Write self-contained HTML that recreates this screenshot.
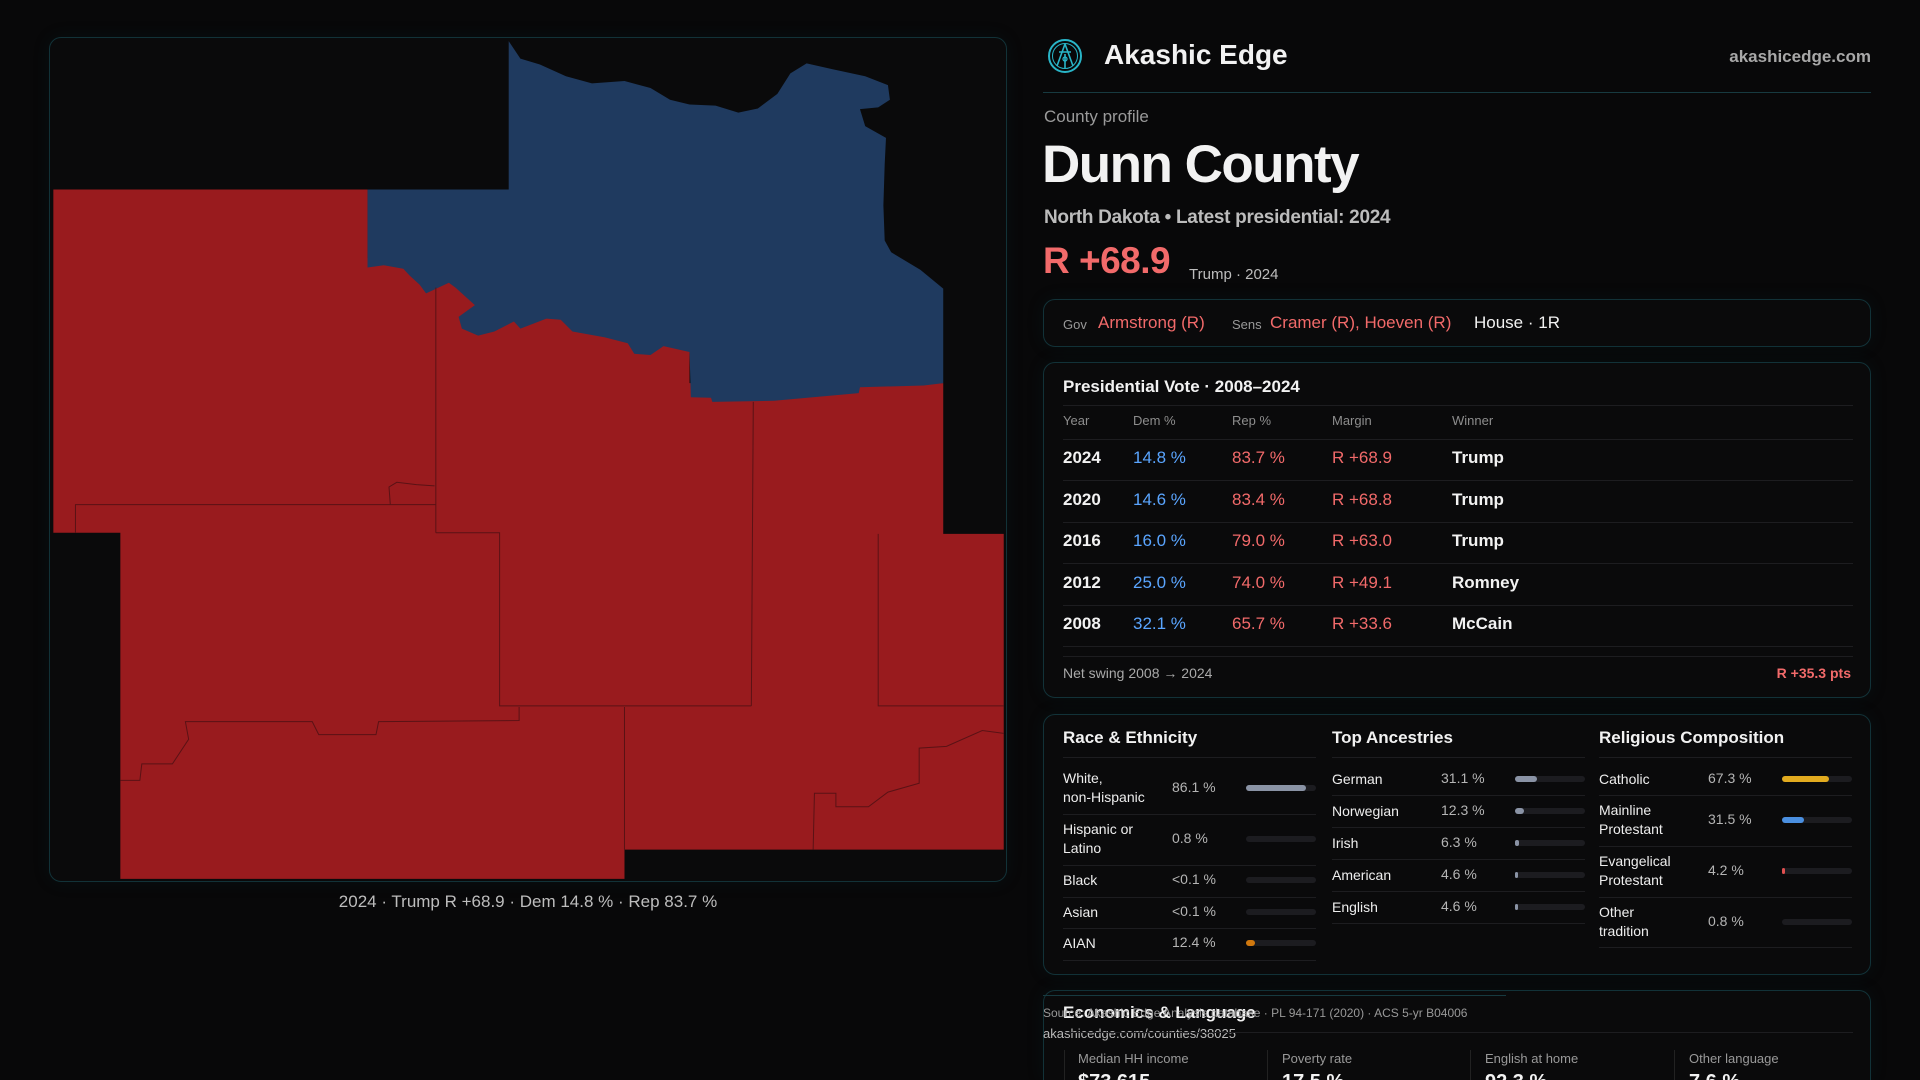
<!DOCTYPE html>
<html><head><meta charset="utf-8"><style>
*{margin:0;padding:0;box-sizing:border-box}
html{width:1920px;height:1080px;overflow:hidden;background:#080809}
body{width:1920px;height:1080px;background:#080809;overflow:hidden;position:relative;font-family:"Liberation Sans","DejaVu Sans",sans-serif;color:#eee}
.abs{position:absolute;white-space:nowrap}
.box{position:absolute;border:1px solid #123238;border-radius:12px;background:#0a0a0b;box-shadow:0 0 18px rgba(20,70,80,0.12)}
.g{color:#9a9a9a}.r{color:#f26a6a}.b{color:#5aa5ff}.w{color:#f2f2f2}
.th{font-size:13px;color:#8d8d8d}
.row{font-size:17px}
.line{position:absolute;height:1px;background:#1d1d20}
.dl{font-size:14px;color:#eee;line-height:19px;white-space:normal;width:92px}
.dv{font-size:14px;color:#b5b5b5}
.track{position:absolute;height:6px;border-radius:3px;background:#1c1c20;width:70px}
.fill{position:absolute;left:0;top:0;height:6px;border-radius:3px}
</style></head><body>

<div class="box" style="left:49px;top:37px;width:958px;height:845px"></div>
<svg style="position:absolute;left:0;top:0" width="1020" height="920" viewBox="0 0 1568 1568" preserveAspectRatio="none">
<polygon fill="#991b1e" points="82,323 565,323 565,440 1060,440 1060,653 1450,653 1450,910 1543,910 1543,1448 960,1448 960,1498 185,1498 185,908 82,908"/>
<polygon fill="#1f3a5f" points="782,70 800,100 830,110 870,130 910,142 960,138 1000,150 1030,170 1060,178 1100,180 1135,192 1165,185 1195,160 1215,125 1240,108 1280,118 1330,130 1365,145 1368,170 1350,183 1322,186 1330,215 1362,235 1360,280 1358,350 1360,410 1370,430 1415,460 1450,492 1450,653 1420,657 1322,660 1320,670 1190,683 1095,685 1093,678 1062,677 1060,600 1020,590 1000,605 975,603 965,585 930,575 880,565 862,545 840,543 800,560 790,548 760,565 735,572 710,560 705,540 730,520 700,490 690,482 655,500 645,485 630,470 620,458 590,452 565,456 565,323 782,323"/>
<g fill="none" stroke="#5a1215" stroke-width="1">
<polyline vector-effect="non-scaling-stroke" points="670,490 670,908"/>
<polyline vector-effect="non-scaling-stroke" points="116,908 116,860 670,860"/>
<polyline vector-effect="non-scaling-stroke" points="670,908 768,908 768,1203 1155,1203"/>
<polyline vector-effect="non-scaling-stroke" points="1158,685 1155,1203"/>
<polyline vector-effect="non-scaling-stroke" points="1350,910 1350,1203 1543,1203"/>
<polyline vector-effect="non-scaling-stroke" points="960,1205 960,1448"/>
<polyline vector-effect="non-scaling-stroke" points="185,1330 215,1330 218,1302 265,1302 290,1260 285,1230 480,1230 490,1252 578,1252 582,1230 798,1228 798,1205"/>
<polyline vector-effect="non-scaling-stroke" points="1250,1448 1252,1352 1285,1352 1285,1375 1335,1375 1365,1350 1413,1335 1413,1275 1455,1272 1510,1245 1543,1250"/>
<polyline vector-effect="non-scaling-stroke" points="600,860 598,830 610,822 640,826 668,828"/>
</g>
</svg>
<div class="abs" style="left:0;width:1056px;text-align:center;top:892px;font-size:17px;color:#bdbdbd">2024 · Trump R +68.9 · Dem 14.8 % · Rep 83.7 %</div>

<svg class="abs" style="left:1047px;top:38px" width="36" height="36" viewBox="0 0 36 36">
<circle cx="18" cy="18" r="16" fill="none" stroke="#29b5c8" stroke-width="2"/>
<circle cx="18" cy="18" r="12.5" fill="none" stroke="#29b5c8" stroke-width="1"/>
<path d="M18 6 L10 28 M18 6 L26 28 M12 14 L24 14 M18 16 L18 30" stroke="#29b5c8" stroke-width="1.6" fill="none"/>
<circle cx="18" cy="21" r="2" fill="none" stroke="#29b5c8" stroke-width="1.3"/>
</svg>
<div class="abs w" style="left:1104px;top:39px;font-size:28px;font-weight:bold">Akashic Edge</div>
<div class="abs" style="right:49px;top:47px;font-size:17px;font-weight:bold;color:#a8a8a8">akashicedge.com</div>
<div class="abs" style="left:1043px;top:92px;width:828px;height:1px;background:#173a40"></div>

<div class="abs g" style="left:1044px;top:107px;font-size:17px">County profile</div>
<div class="abs w" style="left:1042px;top:134px;font-size:53px;font-weight:bold;letter-spacing:-1.5px">Dunn County</div>
<div class="abs" style="left:1044px;top:207px;font-size:19px;color:#bcbcbc;font-weight:bold;letter-spacing:-0.3px">North Dakota • Latest presidential: 2024</div>
<div class="abs r" style="left:1043px;top:240px;font-size:37px;font-weight:bold;letter-spacing:-0.5px">R +68.9</div>
<div class="abs" style="left:1189px;top:266px;font-size:15px;color:#bdbdbd">Trump · 2024</div>

<div class="box" style="left:1043px;top:299px;width:828px;height:48px"></div>
<div class="abs" style="left:1063px;top:317px;font-size:13px;color:#999">Gov</div>
<div class="abs r" style="left:1098px;top:313px;font-size:17px">Armstrong (R)</div>
<div class="abs" style="left:1232px;top:317px;font-size:13px;color:#999">Sens</div>
<div class="abs r" style="left:1270px;top:313px;font-size:17px">Cramer (R), Hoeven (R)</div>
<div class="abs w" style="left:1474px;top:313px;font-size:17px">House · 1R</div>

<div class="box" style="left:1043px;top:362px;width:828px;height:336px"></div>
<div class="abs w" style="left:1063px;top:377px;font-size:17px;font-weight:bold">Presidential Vote · 2008–2024</div>
<div class="line" style="left:1063px;top:405px;width:790px"></div>
<div class="abs th" style="left:1063px;top:413px">Year</div>
<div class="abs th" style="left:1133px;top:413px">Dem %</div>
<div class="abs th" style="left:1232px;top:413px">Rep %</div>
<div class="abs th" style="left:1332px;top:413px">Margin</div>
<div class="abs th" style="left:1452px;top:413px">Winner</div>
<div class="line" style="left:1063px;top:439px;width:790px"></div>
<div id="rows"></div>
<div class="line" style="left:1063px;top:656px;width:790px"></div>
<div class="abs" style="left:1063px;top:665px;font-size:14px;color:#a9a9a9">Net swing 2008 → 2024</div>
<div class="abs r" style="right:69px;top:665px;font-size:14px;font-weight:bold">R +35.3 pts</div>

<div class="box" style="left:1043px;top:714px;width:828px;height:261px"></div>
<div id="demo"></div>

<div class="box" style="left:1043px;top:990px;width:828px;height:90px;border-bottom:none;border-bottom-left-radius:0;border-bottom-right-radius:0"></div>
<div class="abs" style="left:1043px;top:995px;width:463px;height:1px;background:#173a40"></div>
<div class="abs w" style="left:1063px;top:1003px;font-size:17px;font-weight:bold">Economics &amp; Language</div>
<div class="abs" style="left:1043px;top:1006px;font-size:12px;color:#999">Source: Akashic Edge Analysis database · PL 94-171 (2020) · ACS 5-yr B04006</div>
<div class="abs" style="left:1043px;top:1026px;font-size:13px;color:#bbb">akashicedge.com/counties/38025</div>
<div class="line" style="left:1063px;top:1032px;width:790px"></div>
<div class="abs" style="left:1064px;top:1050px;width:1px;height:40px;background:#222"></div>
<div class="abs" style="left:1267px;top:1050px;width:1px;height:40px;background:#222"></div>
<div class="abs" style="left:1470px;top:1050px;width:1px;height:40px;background:#222"></div>
<div class="abs" style="left:1674px;top:1050px;width:1px;height:40px;background:#222"></div>
<div class="abs" style="left:1078px;top:1051px;font-size:13px;color:#999">Median HH income</div>
<div class="abs" style="left:1282px;top:1051px;font-size:13px;color:#999">Poverty rate</div>
<div class="abs" style="left:1485px;top:1051px;font-size:13px;color:#999">English at home</div>
<div class="abs" style="left:1689px;top:1051px;font-size:13px;color:#999">Other language</div>
<div class="abs w" style="left:1078px;top:1071px;font-size:20px;font-weight:bold">$73,615</div>
<div class="abs w" style="left:1282px;top:1071px;font-size:20px;font-weight:bold">17.5 %</div>
<div class="abs w" style="left:1485px;top:1071px;font-size:20px;font-weight:bold">92.3 %</div>
<div class="abs w" style="left:1689px;top:1071px;font-size:20px;font-weight:bold">7.6 %</div>

<script>
const years=["2024","2020","2016","2012","2008"];
const demPct=[14.8,14.6,16.0,25.0,32.1];
const repPct=[83.7,83.4,79.0,74.0,65.7];
const margins=["R +68.9","R +68.8","R +63.0","R +49.1","R +33.6"];
const winners=["Trump","Trump","Trump","Romney","McCain"];
const rows=document.getElementById('rows');
years.forEach((y,i)=>{
  const top=448+i*41.6;
  const cells=[[y,1063,'w','year',true],[demPct[i].toFixed(1)+' %',1133,'b','dem',false],[repPct[i].toFixed(1)+' %',1232,'r','rep',false],[margins[i],1332,'r','margin',false],[winners[i],1452,'w','winner',true]];
  cells.forEach(c=>{
    const d=document.createElement('div');
    d.className='abs row '+c[2];
    
    
    d.style.left=c[1]+'px';d.style.top=top+'px';
    if(c[4])d.style.fontWeight='bold';
    d.textContent=c[0];rows.appendChild(d);
  });
  const l=document.createElement('div');l.className='line';
  
  
  l.style.left='1063px';l.style.top=(top+32)+'px';l.style.width='790px';rows.appendChild(l);
});

const raceLabels=["White, non-Hispanic","Hispanic or Latino","Black","Asian","AIAN"];
const raceValues=[86.1,0.8,0.05,0.05,12.4];
const raceText=["86.1 %","0.8 %","<0.1 %","<0.1 %","12.4 %"];
const ancLabels=["German","Norwegian","Irish","American","English"];
const ancValues=[31.1,12.3,6.3,4.6,4.6];
const relLabels=["Catholic","Mainline Protestant","Evangelical Protestant","Other tradition"];
const relValues=[67.3,31.5,4.2,0.8];
const demo=document.getElementById('demo');
function column(title,x,labels,values,texts,rowYs,colors,lineYs,twoLine){
  const t=document.createElement('div');t.className='abs w';
  
  
  t.style.cssText=`left:${x}px;top:728px;font-size:17px;font-weight:bold`;t.textContent=title;demo.appendChild(t);
  const ln=document.createElement('div');ln.className='line';
  
  
  ln.style.cssText=`left:${x}px;top:757px;width:253px`;demo.appendChild(ln);
  labels.forEach((lb,i)=>{
    const cy=rowYs[i];
    const two=twoLine[i];
    const a=document.createElement('div');a.className='abs dl';
    
    
    a.style.left=x+'px';a.style.top=(cy-(two?19:9.5))+'px';a.textContent=lb;
    if(two&&lb.indexOf(' ')>0){a.innerHTML=lb.replace(/ (?=[^ ]*$)/,'<br>');}
    demo.appendChild(a);
    const v=document.createElement('div');v.className='abs dv';
    
    
    v.style.left=(x+109)+'px';v.style.top=(cy-9)+'px';v.textContent=texts?texts[i]:values[i].toFixed(1)+' %';demo.appendChild(v);
    const tr=document.createElement('div');tr.className='track';
    
    
    tr.style.left=(x+183)+'px';tr.style.top=(cy-3)+'px';
    const f=document.createElement('div');f.className='fill';
    
    
    f.style.width=(values[i]<1?0:Math.max(3,70*values[i]/100))+'px';
    f.style.background=colors[i];tr.appendChild(f);demo.appendChild(tr);
    const sl=document.createElement('div');sl.className='line';
    
    
    sl.style.cssText=`left:${x}px;top:${lineYs[i]}px;width:253px`;demo.appendChild(sl);
  });
}
column("Race & Ethnicity",1063,raceLabels,raceValues,raceText,[788,839,880,912,943],["#8a93a5","#8a93a5","#8a93a5","#8a93a5","#d0780e"],[814,865,897,928,960],[true,true,false,false,false]);
column("Top Ancestries",1332,ancLabels,ancValues,null,[779,811,843,875,907],["#8a93a5","#8a93a5","#8a93a5","#8a93a5","#8a93a5"],[795,827,859,891,923],[false,false,false,false,false]);
column("Religious Composition",1599,relLabels,relValues,null,[779,820,871,922],["#e2ab1f","#4a8fe0","#e05050","#8a93a5"],[795,846,897,947],[false,true,true,true]);
</script>
</body></html>
